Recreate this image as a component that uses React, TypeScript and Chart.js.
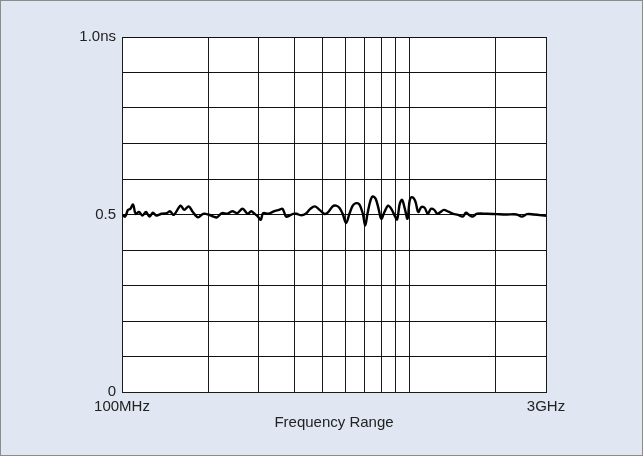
import React, { useEffect, useRef } from "react";
import { Chart, registerables } from "chart.js";

Chart.register(...registerables);

// Frequency (MHz) sample positions
const freqMHz = [100, 102.5, 104.9, 106.9, 109.3, 111.5, 114.6, 117.9, 121.2, 124.6, 128.1, 131.7, 137.4, 143.2, 147.2, 151.4, 160, 164.7, 170.7, 176.5, 184, 191.8, 200, 208.4, 214.1, 223.1, 232.5, 242.2, 252.4, 263, 274.1, 281.8, 289.6, 297.6, 304.3, 310.3, 323.7, 337.7, 352.3, 362.6, 372.9, 383.4, 394.6, 405.1, 420.4, 436.4, 452.9, 470.1, 487.9, 506.9, 520.5, 541.8, 556.8, 571.8, 587.1, 603.4, 619.8, 636.6, 654.4, 672.2, 690.4, 703.4, 716.4, 733.7, 747.3, 765.3, 783.3, 800, 821, 845.2, 867.4, 890.9, 908.4, 928.1, 945.6, 967, 988, 1005, 1023, 1050, 1077, 1104, 1133, 1162, 1192, 1224, 1255, 1287, 1321, 1372, 1426, 1481, 1539, 1578, 1618, 1661, 1726, 1863, 2012, 2184, 2371, 2471, 2575, 2718, 3000];

// Group delay (ns)
const delayNs = [0.500, 0.494, 0.513, 0.516, 0.528, 0.502, 0.507, 0.497, 0.507, 0.494, 0.505, 0.497, 0.502, 0.504, 0.509, 0.499, 0.525, 0.513, 0.523, 0.507, 0.492, 0.502, 0.500, 0.494, 0.492, 0.504, 0.502, 0.509, 0.504, 0.516, 0.502, 0.509, 0.502, 0.494, 0.485, 0.504, 0.502, 0.509, 0.513, 0.516, 0.494, 0.497, 0.502, 0.502, 0.498, 0.502, 0.516, 0.523, 0.513, 0.502, 0.505, 0.523, 0.525, 0.519, 0.502, 0.476, 0.502, 0.525, 0.532, 0.528, 0.502, 0.469, 0.502, 0.539, 0.551, 0.544, 0.516, 0.488, 0.507, 0.525, 0.516, 0.497, 0.486, 0.530, 0.541, 0.516, 0.488, 0.539, 0.549, 0.539, 0.507, 0.521, 0.519, 0.502, 0.516, 0.513, 0.502, 0.507, 0.513, 0.508, 0.502, 0.499, 0.494, 0.505, 0.499, 0.494, 0.502, 0.502, 0.501, 0.500, 0.500, 0.494, 0.501, 0.500, 0.496];

// Vertical grid positions (MHz) and labels
const xGridMHz = [100, 200, 300, 400, 500, 600, 700, 800, 900, 1000, 2000, 3000];
const xTickLabels: Record<number, string> = { 100: "100MHz", 3000: "3GHz" };
const yTickLabels: Record<string, string> = { "0.0": "0", "0.5": "0.5", "1.0": "1.0ns" };

const plotBg = {
  id: "plotBg",
  beforeDraw(chart: any) {
    const { ctx, chartArea } = chart;
    ctx.save();
    ctx.fillStyle = "#ffffff";
    ctx.fillRect(chartArea.left, chartArea.top, chartArea.right - chartArea.left, chartArea.bottom - chartArea.top);
    ctx.restore();
  },
};

export default function App() {
  const ref = useRef<HTMLCanvasElement | null>(null);

  useEffect(() => {
    if (!ref.current) return;
    const font = { family: "'Liberation Sans', Arial, sans-serif", size: 15 };
    const chart = new Chart(ref.current, {
      type: "line",
      data: {
        datasets: [
          {
            data: freqMHz.map((f, i) => ({ x: f, y: delayNs[i] })),
            borderColor: "#000000",
            borderWidth: 2.4,
            pointRadius: 0,
            tension: 0.35,
            fill: false,
          },
        ],
      },
      options: {
        animation: false,
        responsive: false,
        maintainAspectRatio: false,
        layout: { padding: { top: 36, right: 96, left: 0, bottom: 0 } },
        plugins: { legend: { display: false }, tooltip: { enabled: false } },
        scales: {
          x: {
            type: "logarithmic",
            min: 100,
            max: 3000,
            afterBuildTicks: (scale: any) => {
              scale.ticks = xGridMHz.map((v) => ({ value: v }));
            },
            afterFit: (scale: any) => {
              scale.height = 63;
            },
            grid: { color: "#1a1a1a", lineWidth: 1, drawTicks: false },
            border: { color: "#1a1a1a", width: 1 },
            ticks: {
              autoSkip: false,
              maxRotation: 0,
              padding: 6,
              color: "#222222",
              font,
              callback: (v: any) => xTickLabels[Math.round(Number(v))] ?? "",
            },
            title: {
              display: true,
              text: "Frequency Range",
              color: "#222222",
              font,
              padding: { top: 0, bottom: 23 },
            },
          },
          y: {
            type: "linear",
            min: 0,
            max: 1,
            afterFit: (scale: any) => {
              scale.width = 121;
            },
            grid: { color: "#111111", lineWidth: 1, drawTicks: false },
            border: { color: "#1a1a1a", width: 1 },
            ticks: {
              stepSize: 0.1,
              autoSkip: false,
              padding: 6,
              color: "#222222",
              font,
              callback: (v: any) => yTickLabels[Number(v).toFixed(1)] ?? "",
            },
          },
        },
      },
      plugins: [plotBg],
    } as any);
    return () => chart.destroy();
  }, []);

  return (
    <div
      style={{
        position: "fixed",
        left: 0,
        top: 0,
        width: 643,
        height: 456,
        boxSizing: "border-box",
        border: "1px solid #8c8c8c",
        background: "#e0e6f2",
      }}
    >
      <canvas ref={ref} width={641} height={454} style={{ display: "block" }} />
    </div>
  );
}
